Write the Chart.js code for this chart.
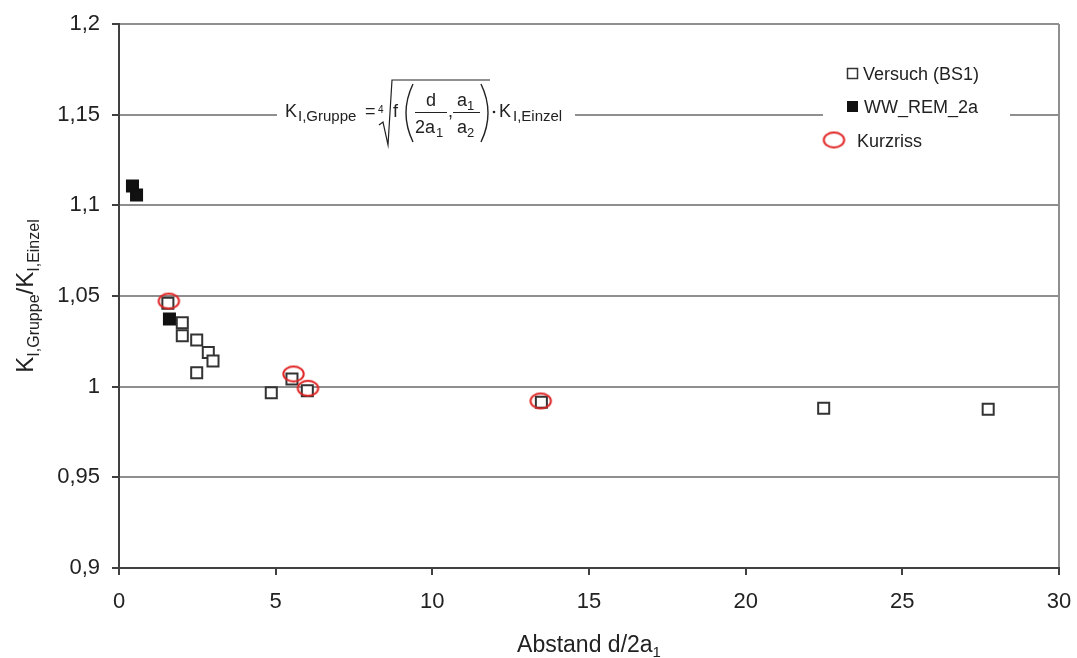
<!DOCTYPE html>
<html>
<head>
<meta charset="utf-8">
<script src="https://cdn.jsdelivr.net/npm/chart.js@4.4.1/dist/chart.umd.min.js"></script>
<style>
  html, body { margin: 0; padding: 0; background: #fff; }
  canvas { display: block; }
</style>
</head>
<body>
<canvas id="chart" width="1077" height="658"></canvas>
<script>
const seriesNames = ["Versuch (BS1)", "WW_REM_2a", "Kurzriss"];

const versuchX = [1.56, 2.02, 2.02, 2.48, 2.85, 3.0, 2.48, 4.86, 5.52, 6.01, 13.48, 22.49, 27.74];
const versuchY = [1.046, 1.0353, 1.0281, 1.0257, 1.0189, 1.0141, 1.0077, 0.9967, 1.0042, 0.9978, 0.9914, 0.9881, 0.9875];

const remX = [0.43, 0.56, 1.61];
const remY = [1.1107, 1.1057, 1.0373];

const kurzX = [1.59, 5.57, 6.03, 13.46];
const kurzY = [1.0472, 1.007, 0.9991, 0.9921];

const xTickLabels = ["0", "5", "10", "15", "20", "25", "30"];
const yTickLabels = ["0,9", "0,95", "1", "1,05", "1,1", "1,15", "1,2"];

const FONT = '"Liberation Sans", Arial, sans-serif';
const INK = "#222";
const GRID = "#8f8f8f";
const AXIS = "#404040";

Chart.defaults.font.family = FONT;
Chart.defaults.color = INK;

function points(xs, ys) {
  return xs.map((x, i) => ({ x: x, y: ys[i] }));
}

// red ellipse used for the "Kurzriss" marker
function ellipseMarker() {
  const c = document.createElement("canvas");
  c.width = 25;
  c.height = 19;
  const g = c.getContext("2d");
  g.strokeStyle = "#e02424";
  g.lineWidth = 2;
  g.beginPath();
  g.ellipse(12.5, 9.5, 10.2, 7.4, 0, 0, Math.PI * 2);
  g.stroke();
  return c;
}
const kurzMarker = ellipseMarker();

function txt(c, s, x, y, size, align) {
  c.font = size + "px " + FONT;
  c.textAlign = align || "left";
  c.fillText(s, x, y);
}

function drawFormula(c) {
  c.fillStyle = "#fff";
  c.fillRect(277, 76, 298, 72);
  c.fillStyle = INK;
  c.strokeStyle = INK;
  c.textBaseline = "alphabetic";
  txt(c, "K", 285, 117, 18);
  txt(c, "I,Gruppe", 298, 121, 15);
  txt(c, "=", 365, 117, 18);
  txt(c, "4", 378, 113, 10);
  // root sign
  c.lineWidth = 1.2;
  c.beginPath();
  c.moveTo(379, 125);
  c.lineTo(383, 122);
  c.lineTo(388, 145);
  c.lineTo(392, 80);
  c.lineTo(490, 80);
  c.stroke();
  txt(c, "f", 393, 117, 18);
  // big brackets
  c.lineWidth = 1.4;
  c.beginPath();
  c.moveTo(413, 84);
  c.quadraticCurveTo(399, 113, 413, 142);
  c.moveTo(481, 84);
  c.quadraticCurveTo(495, 113, 481, 142);
  c.stroke();
  // d / 2a1
  txt(c, "d", 431, 106, 18, "center");
  c.lineWidth = 1;
  c.beginPath();
  c.moveTo(415, 112.5);
  c.lineTo(447, 112.5);
  c.moveTo(453, 112.5);
  c.lineTo(480, 112.5);
  c.stroke();
  txt(c, "2a", 415, 133, 18);
  txt(c, "1", 436, 137, 13);
  txt(c, ",", 448, 117, 18);
  // a1 / a2
  txt(c, "a", 457, 106, 18);
  txt(c, "1", 467, 110, 13);
  txt(c, "a", 457, 133, 18);
  txt(c, "2", 467, 137, 13);
  c.beginPath();
  c.arc(494, 112, 1.3, 0, Math.PI * 2);
  c.fill();
  txt(c, "K", 499, 117, 18);
  txt(c, "I,Einzel", 513, 121, 15);
}

function drawLegend(c) {
  c.fillStyle = "#fff";
  c.fillRect(823, 58, 187, 102);
  c.lineWidth = 1.5;
  c.strokeStyle = "#333";
  c.strokeRect(847.5, 68.5, 10, 10);
  c.fillStyle = "#111";
  c.fillRect(847, 101, 11, 11);
  c.drawImage(kurzMarker, 834 - 12.5, 140 - 9.5);
  c.fillStyle = INK;
  c.textBaseline = "alphabetic";
  txt(c, seriesNames[0], 863, 80, 18);
  txt(c, seriesNames[1], 864, 113, 18);
  txt(c, seriesNames[2], 857, 147, 18);
}

function drawTitles(c, area) {
  c.fillStyle = INK;
  c.textBaseline = "alphabetic";
  // x title: Abstand d/2a1
  c.font = "23px " + FONT;
  const a = c.measureText("Abstand d/2a").width;
  c.font = "15px " + FONT;
  const b = c.measureText("1").width;
  const cx = (area.left + area.right) / 2;
  const x0 = cx - (a + b) / 2;
  txt(c, "Abstand d/2a", x0, 652, 23);
  txt(c, "1", x0 + a, 657, 15);

  // y title: K_I,Gruppe / K_I,Einzel
  const parts = [["K", 24, 0], ["I,Gruppe", 16, 6], ["/K", 24, 0], ["I,Einzel", 16, 6]];
  let total = 0;
  parts.forEach(p => { c.font = p[1] + "px " + FONT; p.push(c.measureText(p[0]).width); total += p[3]; });
  c.save();
  c.translate(33, (area.top + area.bottom) / 2);
  c.rotate(-Math.PI / 2);
  let px = -total / 2;
  parts.forEach(p => {
    txt(c, p[0], px, p[2], p[1]);
    px += p[3];
  });
  c.restore();
}

const overlay = {
  id: "overlay",
  afterDraw(chart) {
    const c = chart.ctx;
    c.save();
    drawFormula(c);
    drawLegend(c);
    drawTitles(c, chart.chartArea);
    c.restore();
  }
};

const ctx = document.getElementById("chart").getContext("2d");

new Chart(ctx, {
  type: "scatter",
  data: {
    datasets: [
      {
        label: seriesNames[2],
        data: points(kurzX, kurzY),
        pointStyle: kurzMarker,
        pointRadius: 10,
        order: 0
      },
      {
        label: seriesNames[1],
        data: points(remX, remY),
        pointStyle: "rect",
        pointRadius: 7.8,
        backgroundColor: "#111",
        borderColor: "#111",
        borderWidth: 2,
        order: 1
      },
      {
        label: seriesNames[0],
        data: points(versuchX, versuchY),
        pointStyle: "rect",
        pointRadius: 7.8,
        backgroundColor: "#fff",
        borderColor: "#333",
        borderWidth: 2,
        order: 2
      }
    ]
  },
  options: {
    responsive: false,
    devicePixelRatio: 1,
    animation: false,
    layout: { padding: { left: 0, right: 18, top: 24, bottom: 0 } },
    plugins: {
      legend: { display: false },
      tooltip: { enabled: false }
    },
    scales: {
      x: {
        type: "linear",
        min: 0,
        max: 30,
        ticks: {
          stepSize: 5,
          font: { size: 22 },
          color: INK,
          padding: 14,
          callback: (v, i) => xTickLabels[i]
        },
        grid: {
          color: c => (c.tick && c.tick.value === 30 ? GRID : "rgba(0,0,0,0)"),
          tickColor: AXIS,
          tickLength: 7,
          lineWidth: 2
        },
        border: { color: AXIS, width: 2 },
        afterFit: s => { s.height = 90; s.paddingLeft = 0; s.paddingRight = 0; }
      },
      y: {
        min: 0.9,
        max: 1.2,
        ticks: {
          stepSize: 0.05,
          font: { size: 22 },
          color: INK,
          padding: 12,
          callback: (v, i) => yTickLabels[i]
        },
        grid: {
          color: GRID,
          tickColor: AXIS,
          tickLength: 7,
          lineWidth: 2
        },
        border: { color: AXIS, width: 2 },
        afterFit: s => { s.width = 119; s.paddingTop = 0; s.paddingBottom = 0; }
      }
    }
  },
  plugins: [overlay]
});
</script>
</body>
</html>
